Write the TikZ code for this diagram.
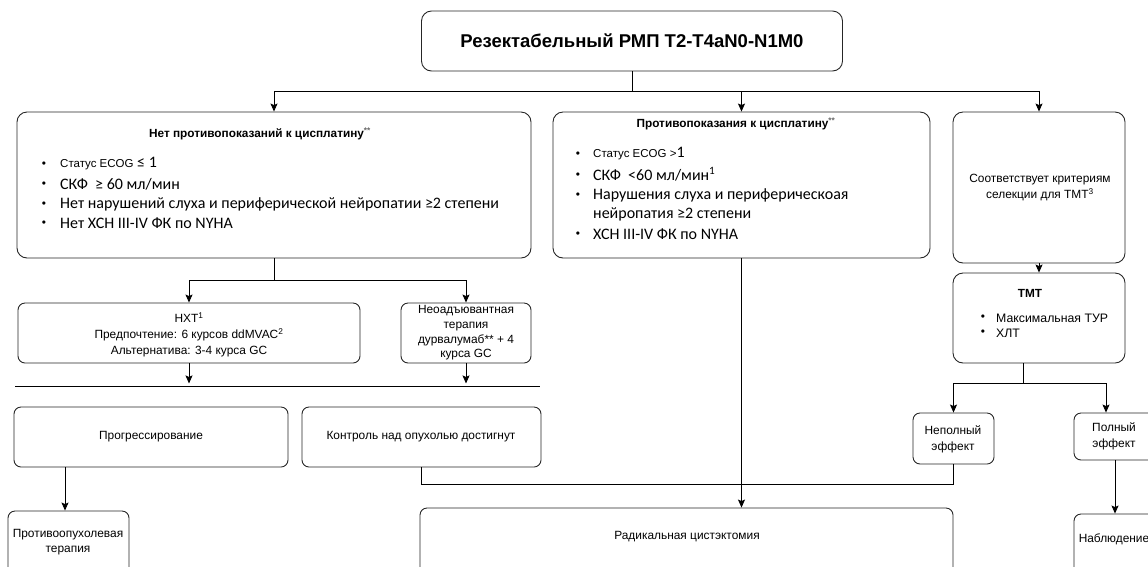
\documentclass[tikz,border=0pt]{standalone}
\usepackage{fontspec}
\setmainfont{Liberation Sans}
\newfontfamily\calib{Carlito}
\usetikzlibrary{arrows.meta}

\newcommand{\ftsmall}{\fontsize{11.9}{16}\selectfont}
\newcommand{\fttiny}{\fontsize{11.5}{13}\selectfont}
\newcommand{\ftbig}{\calib\fontsize{16}{19}\selectfont}

\tikzset{
  box/.style={draw=black!85, line width=0.9pt, rounded corners=10pt, inner sep=0pt},
  sbox/.style={box, rounded corners=7pt},
  lbl/.style={inner sep=0pt, align=center, font=\ftsmall},
  ttl/.style={inner sep=0pt, font=\fontsize{11.8}{13}\selectfont\bfseries},
  dot/.style={inner sep=0pt, font=\ftsmall},
  itm/.style={inner sep=0pt, anchor=west, font=\ftbig},
  con/.style={line width=0.9pt},
  arr/.style={con, -{Stealth[length=8pt,width=7pt,inset=1.5pt]}},
}

\begin{document}
\begin{tikzpicture}[x=1pt,y=-1pt]
\clip (0,0) rectangle (1148,566);
%\draw[step=50,gray,very thin] (0,0) grid (1148,566);
% boxes
\node[box,minimum width=421,minimum height=60] (top) at (632,41) {};
\node[inner sep=0pt,font=\fontsize{18.5}{20}\selectfont\bfseries] (toptxt) at (632,41) {Резектабельный РМП T2-T4aN0-N1M0};
\node[box,minimum width=514,minimum height=146] (A) at (274,185) {};
\node[box,minimum width=377,minimum height=146] (B) at (741.5,185) {};
\node[box,minimum width=172,minimum height=151] (C) at (1039,187.5) {};
\node[box,minimum width=172,minimum height=90] (D) at (1039,318) {};
\node[sbox,minimum width=342,minimum height=60] (E) at (189,333) {};
\node[sbox,minimum width=130,minimum height=60] (F) at (466,333) {};
\node[sbox,minimum width=274,minimum height=60] (G) at (151,437) {};
\node[sbox,minimum width=239,minimum height=60] (H) at (421.5,437) {};
\node[sbox,minimum width=121,minimum height=69] (I) at (68.5,545.5) {};
\node[sbox,minimum width=533,minimum height=72] (J) at (686.5,544) {};
\node[sbox,minimum width=81,minimum height=51] (K) at (953.5,438.5) {};
\node[sbox,minimum width=82,minimum height=47] (L) at (1115,436.5) {};
\node[sbox,minimum width=82,minimum height=66] (M) at (1115,547) {};

% box A
\node[ttl] (Attl) at (260,134) {Нет противопоказаний к цисплатину\textsuperscript{\textcolor{black!60}{**}}};
\node[dot] (Ad1) at (44,165) {•};
\node[dot] (Ad2) at (44,185) {•};
\node[dot] (Ad3) at (44,205) {•};
\node[dot] (Ad4) at (44,224) {•};
\node[itm] (A1) at (60,164) {{\normalfont\fttiny Статус ECOG} ≤ 1};
\node[itm] (A2) at (60,184) {СКФ \ ≥ 60 мл/мин};
\node[itm] (A3) at (60,204) {Нет нарушений слуха и периферической нейропатии ≥2 степени};
\node[itm] (A4) at (60,223) {Нет ХСН III-IV ФК по NYHA};

% box B
\node[ttl] (Bttl) at (736,124) {Противопоказания к цисплатину\textsuperscript{\textcolor{black!60}{**}}};
\node[dot] (Bd1) at (578,155) {•};
\node[dot] (Bd2) at (578,176) {•};
\node[dot] (Bd3) at (578,196) {•};
\node[dot] (Bd4) at (578,235) {•};
\node[itm] (B1) at (593,154) {{\normalfont\fttiny Статус ECOG >}1};
\node[itm] (B2) at (593,174) {СКФ \ <60 мл/мин\textsuperscript{1}};
\node[itm] (B3) at (593,195) {Нарушения слуха и периферическоая};
\node[itm] (B4) at (593,214) {нейропатия ≥2 степени};
\node[itm] (B5) at (593,234) {ХСН III-IV ФК по NYHA};

% right column
\node[lbl] (Ctxt) at (1040,188) {Соответствует критериям\\селекции для ТМТ\textsuperscript{3}};
\node[ttl] (Dttl) at (1030,293) {ТМТ};
\node[dot] (Dd1) at (983,318) {•};
\node[dot] (Dd2) at (983,333) {•};
\node[itm,font=\fontsize{12.3}{15}\selectfont] (D1) at (996,318) {Максимальная ТУР};
\node[itm,font=\fontsize{12.3}{15}\selectfont] (D2) at (996,333) {ХЛТ};

% lower boxes
\node[lbl] (Etxt) at (189,335) {НХТ\textsuperscript{1}\\Предпочтение: 6 курсов ddMVAC\textsuperscript{2}\\Альтернатива: 3-4 курса GC};
\node[lbl,font=\fontsize{11.9}{14.7}\selectfont] (Ftxt) at (466,333) {Неоадъювантная\\терапия\\дурвалумаб** + 4\\курса GC};
\node[lbl] (Gtxt) at (151,437) {Прогрессирование};
\node[lbl] (Htxt) at (421,437) {Контроль над опухолью достигнут};
\node[lbl,font=\fontsize{11.9}{14.5}\selectfont] (Itxt) at (68,542) {Противоопухолевая\\терапия};
\node[lbl] (Jtxt) at (687,537) {Радикальная цистэктомия};
\node[lbl] (Ktxt) at (953,439.5) {Неполный\\эффект};
\node[lbl] (Ltxt) at (1114,436.5) {Полный\\эффект};
\node[lbl] (Mtxt) at (1114,539) {Наблюдение};

% connectors
\draw[con] (top.south) -- ++(0,20) coordinate (t1);
\draw[arr] (t1) -| (A.north);
\draw[arr] (t1) -| (B.north);
\draw[arr] (t1) -| (C.north);
\draw[con] (A.south) -- ++(0,22) coordinate (a1);
\draw[arr] (a1) -| (E.north);
\draw[arr] (a1) -| (F.north);
\coordinate (r1) at (15,386);
\coordinate (r2) at (540,386);
\draw[con] (r1) -- (r2);
\draw[arr] (E.south) -- ++(0,20);
\draw[arr] (F.south) -- ++(0,20);
\draw[arr] ([xshift=-3.5pt]I.north |- G.south) -- ([xshift=-3.5pt]I.north);
\draw[arr] (B.south) -- (B.south |- J.north);
\draw[con] (H.south) -- ++(0,17) -| (K.south);
\draw[arr] (C.south) -- (D.north);
\draw[con] ([xshift=-16pt]D.south) -- ++(0,20) coordinate (d1);
\draw[arr] (d1) -| (K.north);
\draw[arr] (d1) -| ([xshift=-9pt]L.north);
\draw[arr] (L.south) -- (M.north);
\end{tikzpicture}
\end{document}
